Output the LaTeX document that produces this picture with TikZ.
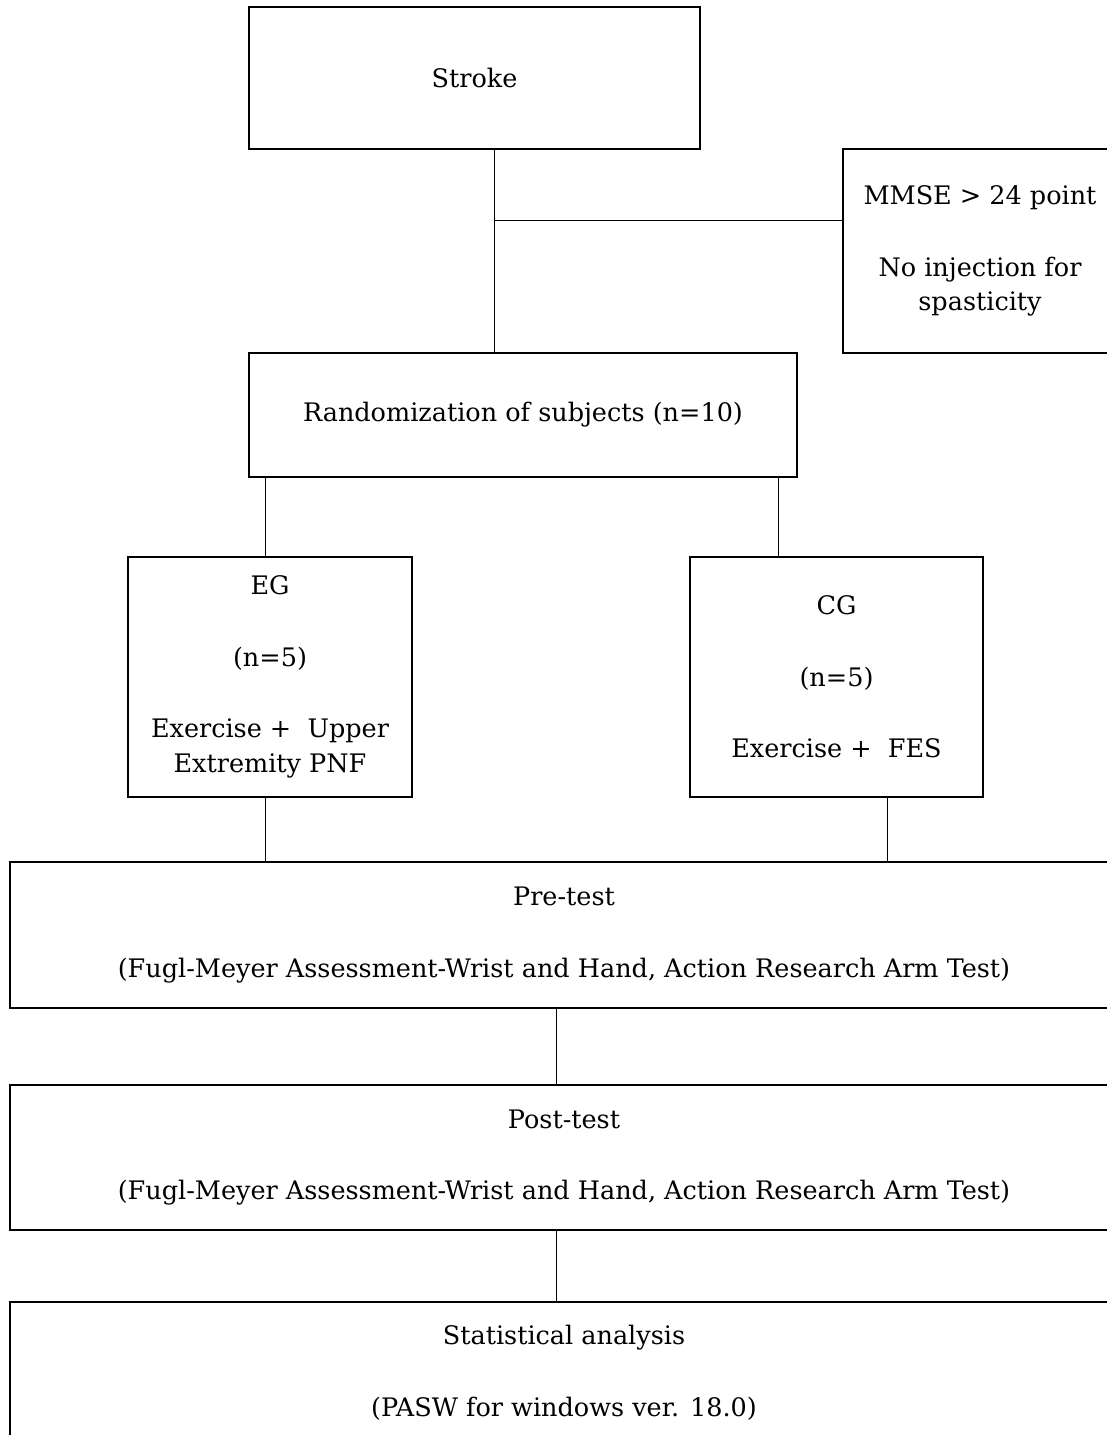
\documentclass[tikz,border=0pt]{standalone}
\usepackage{fontspec}
\setmainfont{DejaVu Serif}
\usepackage{tikz}
\usetikzlibrary{positioning,calc}
\tikzset{
  flowbox/.style={draw=black,line width=1.2pt,inner sep=0pt,align=center,
    font=\fontsize{25.5}{34.5}\selectfont},
  flowlink/.style={draw=black,line width=0.9pt},
}

\begin{document}
\begin{tikzpicture}[x=1pt,y=-1pt]
  \useasboundingbox (0,0) rectangle (1107,1435);
  % boxes
  \node[flowbox,minimum width=451pt,minimum height=142pt] (stroke) at (474.5,78) {Stroke};
  \node[flowbox,minimum width=274pt,minimum height=204pt] (mmse) at (980,251)
    {MMSE > 24 point\\[37pt]No injection for\\spasticity};
  \node[flowbox,minimum width=548pt,minimum height=124pt] (rand) at (523,415)
    {Randomization of subjects (n=10)};
  \node[flowbox,minimum width=284pt,minimum height=240pt] (eg) at (270,677)
    {EG\\[37pt](n=5)\\[37pt]Exercise + ~Upper\\Extremity PNF};
  \node[flowbox,minimum width=293pt,minimum height=240pt] (cg) at (836.5,677)
    {CG\\[37pt](n=5)\\[37pt]Exercise + ~FES};
  \node[flowbox,minimum width=1108pt,minimum height=146pt] (pre) at (564,935)
    {Pre-test\\[37pt](Fugl-Meyer Assessment-Wrist and Hand, Action Research Arm Test)};
  \node[flowbox,minimum width=1108pt,minimum height=145pt] (post) at (564,1157.5)
    {Post-test\\[37pt](Fugl-Meyer Assessment-Wrist and Hand, Action Research Arm Test)};
  \node[flowbox,minimum width=1108pt,minimum height=142pt] (stat) at (564,1373)
    {Statistical analysis\\[37pt](PASW for windows ver. 18.0)};
  % connectors
  \coordinate (j1) at (494,220);
  \coordinate (jeg) at (265,0);
  \coordinate (jcg) at (778,0);
  \coordinate (jeg2) at (265,0);
  \coordinate (jcg2) at (887,0);
  \coordinate (jmid) at (556,0);
  \draw[flowlink] (j1 |- stroke.south) -- (j1 |- rand.north);
  \draw[flowlink] (j1) -- (mmse.west |- j1);
  \draw[flowlink] (jeg |- rand.south) -- (jeg |- eg.north);
  \draw[flowlink] (jcg |- rand.south) -- (jcg |- cg.north);
  \draw[flowlink] (jeg2 |- eg.south) -- (jeg2 |- pre.north);
  \draw[flowlink] (jcg2 |- cg.south) -- (jcg2 |- pre.north);
  \draw[flowlink] (jmid |- pre.south) -- (jmid |- post.north);
  \draw[flowlink] (jmid |- post.south) -- (jmid |- stat.north);
\end{tikzpicture}
\end{document}
